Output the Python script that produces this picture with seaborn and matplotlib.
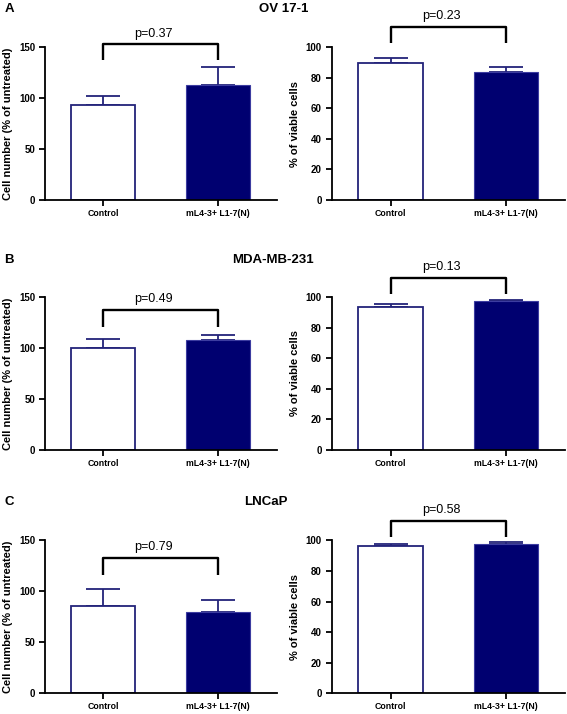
"""
Cell number and viability bar panels (OV 17-1, MDA-MB-231, LNCaP)
"""
import matplotlib
matplotlib.use("Agg")
import matplotlib.pyplot as plt
import pandas as pd
import seaborn as sns

# ---- data ----
groups = ["Control", "mL4-3+ L1-7(N)"]
cell_lines = ["OV 17-1", "MDA-MB-231", "LNCaP"]
panel_letters = ["A", "B", "C"]

# cell number (% of untreated): mean and upper SEM
ov_count = [93.5, 113.0]
ov_count_err = [8.1, 17.5]
mda_count = [100.0, 107.6]
mda_count_err = [8.6, 4.9]
lncap_count = [85.6, 79.7]
lncap_count_err = [16.3, 11.4]

# % of viable cells: mean and upper SEM
ov_viable = [89.5, 83.7]
ov_viable_err = [3.3, 3.2]
mda_viable = [93.3, 97.2]
mda_viable_err = [2.2, 0.8]
lncap_viable = [96.1, 97.6]
lncap_viable_err = [1.7, 1.1]

# p-values shown over the brackets
count_p = ["0.37", "0.49", "0.79"]
viable_p = ["0.23", "0.13", "0.58"]

# bracket levels (top, tips) in data units
count_bracket = [(152.6, 137.0), (137.0, 120.6), (132.5, 115.8)]
viable_bracket = [(113.0, 102.6), (112.5, 101.7), (112.8, 102.2)]

count_ticks = [0, 50, 100, 150]
viable_ticks = [0, 20, 40, 60, 80, 100]

NAVY = "#000070"
NAVY_EDGE = "#23237a"

sns.set_style("ticks")
plt.rcParams["font.family"] = ["Liberation Sans", "DejaVu Sans"]
plt.rcParams["text.color"] = "black"
plt.rcParams["axes.labelcolor"] = "black"
plt.rcParams["xtick.color"] = "black"
plt.rcParams["ytick.color"] = "black"


def draw_panel(ax, means, errs, ticks, ylabel, p, bracket):
    df = pd.DataFrame({"group": groups, "value": means})
    sns.barplot(data=df, x="group", y="value", hue="group",
                palette=["white", NAVY], saturation=1, width=0.56,
                linewidth=1.3, edgecolor=NAVY_EDGE, legend=False, ax=ax,
                zorder=2)
    # fill bar gets a slightly lighter outline
    ax.patches[1].set_edgecolor("#3c3ca0")
    ax.patches[1].set_linewidth(0.8)

    # one-sided SEM bars (lower cap hidden behind the bar)
    ax.errorbar([0, 1], means, yerr=[[0, 0], errs], fmt="none",
                ecolor=NAVY_EDGE, elinewidth=1.3, capsize=12, capthick=1.3,
                zorder=1)

    ax.set_xlim(-0.51, 1.51)
    ax.set_ylim(ticks[0], ticks[-1])
    ax.set_yticks(ticks)
    ax.set_xlabel("")
    ax.set_ylabel(ylabel, fontsize=8, fontweight="bold", labelpad=4)

    for side in ["top", "right"]:
        ax.spines[side].set_visible(False)
    for side in ["left", "bottom"]:
        ax.spines[side].set_linewidth(1.3)
        ax.spines[side].set_color("black")
    ax.tick_params(axis="both", width=1.3, length=4, color="black")
    ax.tick_params(axis="y", labelsize=7, pad=3)
    ax.tick_params(axis="x", labelsize=6.3, pad=2.5)
    for lab in ax.get_xticklabels() + ax.get_yticklabels():
        lab.set_fontweight("bold")

    # significance bracket
    top, tip = bracket
    ax.plot([0, 0, 1, 1], [tip, top, top, tip], color="black", lw=1.7,
            clip_on=False, solid_capstyle="butt")
    ax.annotate(f"p={p}", xy=(0.44, top), xytext=(0, 3.5),
                textcoords="offset points", ha="center", va="bottom",
                fontsize=9, annotation_clip=False)


fig = plt.figure(figsize=(5.67, 7.14), dpi=100)

count_means = [ov_count, mda_count, lncap_count]
count_errs = [ov_count_err, mda_count_err, lncap_count_err]
viable_means = [ov_viable, mda_viable, lncap_viable]
viable_errs = [ov_viable_err, mda_viable_err, lncap_viable_err]

row_bottoms = [0.720, 0.370, 0.029]
title_y = [0.988, 0.636, 0.297]
title_x = [0.50, 0.482, 0.469]

for i in range(3):
    ax_l = fig.add_axes([0.079, row_bottoms[i], 0.409, 0.214])
    draw_panel(ax_l, count_means[i], count_errs[i], count_ticks,
               "Cell number (% of untreated)", count_p[i], count_bracket[i])
    ax_r = fig.add_axes([0.585, row_bottoms[i], 0.411, 0.214])
    draw_panel(ax_r, viable_means[i], viable_errs[i], viable_ticks,
               "% of viable cells", viable_p[i], viable_bracket[i])

    fig.text(0.008, title_y[i], panel_letters[i], fontsize=9.5,
             fontweight="bold", va="center", ha="left")
    fig.text(title_x[i], title_y[i], cell_lines[i], fontsize=9.5,
             fontweight="bold", va="center", ha="center")

fig.savefig("out.png", dpi=100)
